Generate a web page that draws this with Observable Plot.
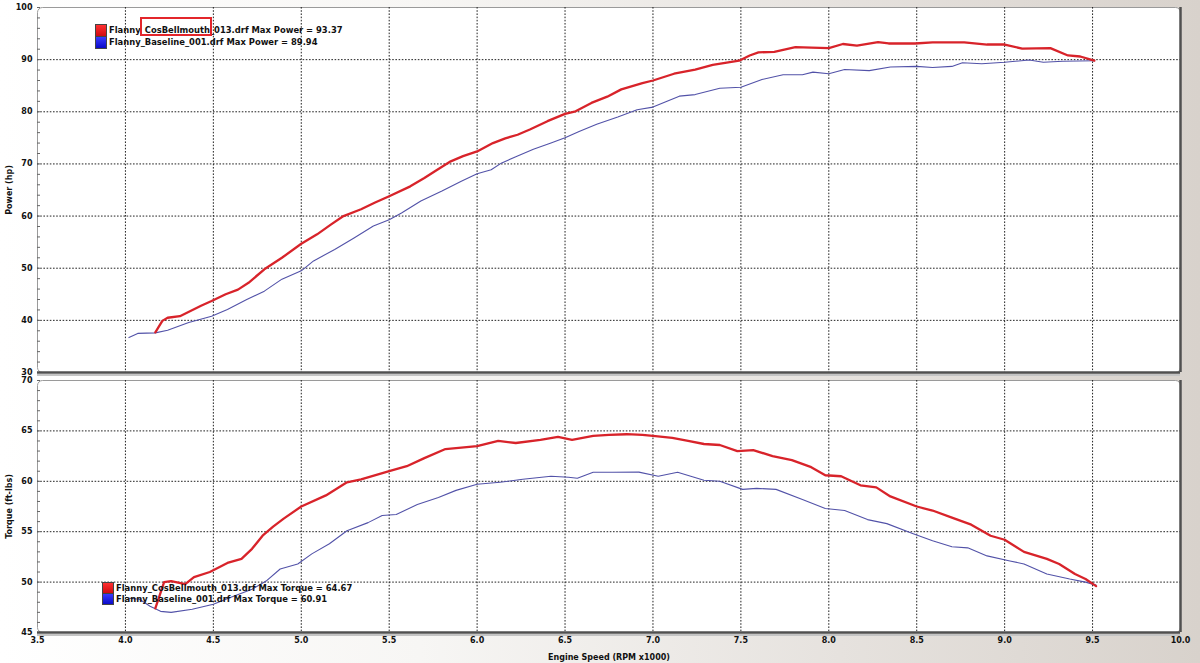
<!DOCTYPE html>
<html>
<head>
<meta charset="utf-8">
<script src="https://cdn.jsdelivr.net/npm/d3@7"></script>
<script src="https://cdn.jsdelivr.net/npm/@observablehq/plot@0.6"></script>
<style>
  html, body { margin: 0; padding: 0; }
  #chart {
    position: relative; width: 1200px; height: 663px; overflow: hidden;
    background: linear-gradient(90deg, #ffffff 0%, #f7f6f4 35%, #e6e2de 70%, #d8d2cc 100%);
    font-family: "DejaVu Sans", Verdana, sans-serif;
  }
  .panel { position: absolute; left: 0; }
  .legend { position: absolute; font: bold 8.4px "DejaVu Sans", Verdana, sans-serif; color: #111; white-space: nowrap; }
  .legend .row { display: flex; align-items: center; }
  .legend .sw { width: 10px; border: 1px solid #444; margin-right: 2px; box-sizing: content-box; }
  .annot { position: absolute; border: 2px solid #e3262b; box-sizing: border-box; }
</style>
</head>
<body>
<div id="chart"></div>
<script>
// ---------------- data ----------------
const xTicks = [3.5, 4.0, 4.5, 5.0, 5.5, 6.0, 6.5, 7.0, 7.5, 8.0, 8.5, 9.0, 9.5, 10.0];
const powerTicks = [30, 40, 50, 60, 70, 80, 90, 100];
const torqueTicks = [45, 50, 55, 60, 65, 70];

const seriesNames = ["Flanny_CosBellmouth_013.drf", "Flanny_Baseline_001.drf"];
const seriesColors = ["#d8232a", "#5252a8"];
const maxPower = ["93.37", "89.94"];
const maxTorque = ["64.67", "60.91"];

// Power (hp) – CosBellmouth
const cosPowerRpm = [4.17,4.21,4.24,4.31,4.37,4.43,4.49,4.57,4.64,4.70,4.79,4.89,5.00,5.09,5.17,5.24,5.34,5.42,5.50,5.62,5.70,5.76,5.85,5.92,6.00,6.09,6.16,6.23,6.30,6.40,6.50,6.56,6.65,6.74,6.82,6.94,7.00,7.12,7.24,7.34,7.49,7.55,7.60,7.69,7.81,7.90,8.00,8.08,8.16,8.28,8.34,8.49,8.59,8.77,8.90,9.00,9.10,9.26,9.36,9.43,9.51];
const cosPower    = [37.7,39.9,40.5,40.8,41.8,42.8,43.7,45.0,45.9,47.2,49.8,52.0,54.7,56.5,58.4,60.0,61.3,62.6,63.8,65.7,67.3,68.6,70.5,71.5,72.4,74.0,74.9,75.6,76.6,78.2,79.6,80.1,81.7,82.9,84.3,85.5,86.0,87.3,88.1,89.0,89.8,90.8,91.4,91.5,92.4,92.3,92.2,93.0,92.7,93.37,93.1,93.1,93.3,93.3,92.9,92.9,92.1,92.2,90.8,90.6,89.8];

// Power (hp) – Baseline
const basePowerRpm = [4.02,4.07,4.17,4.24,4.36,4.49,4.58,4.69,4.79,4.89,5.00,5.07,5.19,5.30,5.41,5.50,5.57,5.68,5.80,5.91,6.00,6.08,6.14,6.23,6.32,6.42,6.50,6.58,6.68,6.80,6.91,7.00,7.08,7.15,7.24,7.38,7.50,7.62,7.74,7.85,7.91,8.00,8.09,8.23,8.35,8.50,8.59,8.70,8.76,8.87,9.00,9.14,9.22,9.33,9.51];
const basePower    = [36.7,37.5,37.6,38.1,39.6,40.8,42.1,44.0,45.6,47.9,49.5,51.4,53.6,55.8,58.1,59.3,60.6,62.9,64.8,66.7,68.1,68.9,70.2,71.5,72.8,74.0,75.0,76.2,77.6,79.0,80.4,80.9,82.0,83.0,83.3,84.5,84.7,86.2,87.1,87.1,87.6,87.3,88.1,87.9,88.6,88.7,88.5,88.7,89.4,89.2,89.5,89.94,89.5,89.7,89.8];

// Torque (ft-lbs) – CosBellmouth
const cosTorqueRpm = [4.17,4.22,4.26,4.34,4.39,4.48,4.58,4.66,4.72,4.78,4.84,4.90,5.00,5.14,5.26,5.34,5.50,5.60,5.70,5.82,5.94,6.00,6.12,6.22,6.36,6.46,6.54,6.60,6.66,6.75,6.85,6.94,7.00,7.11,7.20,7.29,7.38,7.48,7.57,7.68,7.79,7.90,7.98,8.07,8.18,8.27,8.35,8.50,8.59,8.70,8.81,8.92,9.00,9.11,9.24,9.31,9.40,9.46,9.52];
const cosTorque    = [47.4,50.0,50.1,49.8,50.5,51.0,51.9,52.3,53.3,54.6,55.5,56.3,57.5,58.6,59.9,60.2,61.0,61.5,62.3,63.2,63.4,63.5,64.0,63.8,64.1,64.4,64.1,64.3,64.5,64.6,64.67,64.6,64.5,64.3,64.0,63.7,63.6,63.0,63.1,62.5,62.1,61.4,60.6,60.5,59.6,59.4,58.5,57.5,57.1,56.4,55.7,54.6,54.2,53.0,52.3,51.8,50.8,50.3,49.6];

// Torque (ft-lbs) – Baseline
const baseTorqueRpm = [4.02,4.08,4.14,4.20,4.26,4.38,4.50,4.60,4.72,4.80,4.88,4.98,5.06,5.16,5.26,5.38,5.46,5.54,5.66,5.78,5.88,6.00,6.13,6.26,6.42,6.52,6.57,6.66,6.77,6.92,7.03,7.14,7.29,7.38,7.51,7.59,7.70,7.85,7.98,8.09,8.22,8.33,8.48,8.59,8.70,8.79,8.90,9.03,9.11,9.24,9.37,9.46,9.52];
const baseTorque    = [48.4,48.3,47.6,47.1,47.0,47.3,47.8,48.5,49.3,50.1,51.3,51.8,52.8,53.8,55.1,55.9,56.6,56.7,57.7,58.4,59.1,59.7,59.9,60.2,60.5,60.4,60.3,60.9,60.9,60.91,60.5,60.9,60.1,60.0,59.2,59.3,59.2,58.2,57.3,57.1,56.2,55.8,54.8,54.1,53.5,53.4,52.6,52.1,51.8,50.8,50.3,50.0,49.7];

// ---------------- helpers ----------------
const zip = (xs, ys) => xs.map((x, i) => ({x, y: ys[i]}));
const font = {fontFamily: "DejaVu Sans, Verdana, sans-serif", fontSize: "8px", fontWeight: "bold", color: "#111", background: "transparent", overflow: "visible"};

function panel({height, marginTop, marginBottom, yDomain, yTicks, yMinor, yLabel, base, cos, showX}) {
  const innerX = xTicks.slice(1, -1);
  const innerY = yTicks.slice(1, -1);
  const marks = [
    Plot.frame({fill: "white", stroke: "#9a9a9a", strokeWidth: 1, rx: 5}),
    Plot.ruleY(innerY, {stroke: "#222", strokeWidth: 1, strokeDasharray: "1.6,1.6"}),
    Plot.ruleX(innerX, {stroke: "#222", strokeWidth: 1, strokeDasharray: "1.6,1.6"}),
    Plot.axisY({ticks: yMinor, tickSize: -3, tickFormat: () => "", stroke: "#666", label: null}),
    Plot.axisY({ticks: yTicks, tickSize: 0, tickPadding: 5, label: yLabel, labelAnchor: "center", labelArrow: "none", labelOffset: 31}),
    Plot.line(base, {x: "x", y: "y", stroke: seriesColors[1], strokeWidth: 1.1}),
    Plot.line(cos, {x: "x", y: "y", stroke: seriesColors[0], strokeWidth: 2.3}),
    Plot.ruleY([yDomain[0]], {stroke: "#c4c4c4", strokeWidth: 2, dy: 2.5}),
    Plot.ruleY([yDomain[0]], {stroke: "#505050", strokeWidth: 2.5}),
    Plot.ruleX([10], {stroke: "#505050", strokeWidth: 2.5})
  ];
  if (showX) {
    marks.push(Plot.axisX({ticks: xTicks, tickSize: 0, tickPadding: 5, tickFormat: d3.format(".1f"),
      label: "Engine Speed (RPM x1000)", labelAnchor: "center", labelArrow: "none", labelOffset: 27}));
  } else {
    marks.push(Plot.axisX({ticks: [], label: null}));
  }
  return Plot.plot({
    width: 1200, height, marginLeft: 37, marginRight: 20, marginTop, marginBottom,
    style: font,
    x: {domain: [3.5, 10]},
    y: {domain: yDomain},
    marks
  });
}

const chartEl = document.getElementById("chart");

const powerPanel = panel({
  height: 378, marginTop: 7, marginBottom: 6, yDomain: [30, 100], yTicks: powerTicks,
  yMinor: d3.range(30, 101, 2), yLabel: "Power (hp)",
  base: zip(basePowerRpm, basePower), cos: zip(cosPowerRpm, cosPower), showX: false
});
powerPanel.classList.add("panel"); powerPanel.style.top = "0px";
chartEl.appendChild(powerPanel);

const torquePanel = panel({
  height: 285, marginTop: 2, marginBottom: 31, yDomain: [45, 70], yTicks: torqueTicks,
  yMinor: d3.range(45, 70.1, 1), yLabel: "Torque (ft-lbs)",
  base: zip(baseTorqueRpm, baseTorque), cos: zip(cosTorqueRpm, cosTorque), showX: true
});
torquePanel.classList.add("panel"); torquePanel.style.top = "378px";
chartEl.appendChild(torquePanel);

// legends
function legend(left, topPx, rowH, metric, values) {
  const div = document.createElement("div");
  div.className = "legend";
  div.style.left = left + "px"; div.style.top = topPx + "px";
  seriesNames.forEach((name, i) => {
    const row = document.createElement("div");
    row.className = "row";
    row.style.height = rowH + "px";
    const sw = document.createElement("span");
    sw.className = "sw";
    sw.style.height = (rowH - 1) + "px";
    sw.style.background = i === 0 ? "linear-gradient(#ff3030,#d00a10)" : "linear-gradient(#3a3aff,#0a0ac8)";
    const t = document.createElement("span");
    t.textContent = `${name} Max ${metric} = ${values[i]}`;
    row.appendChild(sw); row.appendChild(t);
    div.appendChild(row);
  });
  chartEl.appendChild(div);
}
legend(95, 24, 12, "Power", maxPower);
legend(102, 582, 11, "Torque", maxTorque);

const box = document.createElement("div");
box.className = "annot";
box.style.left = "140px"; box.style.top = "17px"; box.style.width = "72px"; box.style.height = "19px";
chartEl.appendChild(box);
</script>
</body>
</html>
